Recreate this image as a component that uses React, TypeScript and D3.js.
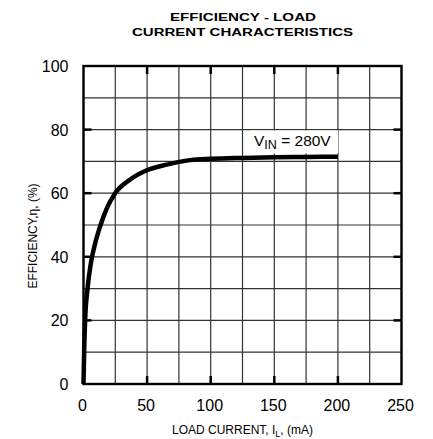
import React from "react";
import * as d3 from "d3";

const loadCurrent = [0, 0.55, 1.3, 3.1, 5.8, 9.2, 13.1, 18.4, 24.9, 36.7, 49.8, 65.5, 83.9, 100, 125, 150, 175, 200];
const efficiency = [0, 10.8, 20.2, 29.7, 38, 44.3, 49.6, 55.3, 60, 64.3, 67.2, 69, 70.4, 70.8, 71.1, 71.3, 71.4, 71.5];
const xTicks = [0, 50, 100, 150, 200, 250];
const yTicks = [0, 20, 40, 60, 80, 100];
const xGrid = d3.range(0, 251, 25);
const yGrid = d3.range(0, 101, 10);
const titleLines = ["EFFICIENCY - LOAD", "CURRENT CHARACTERISTICS"];

const W = 433, H = 439;
const L = 83.5, R = 401.5, T = 66, B = 384;

export default function App() {
  const x = d3.scaleLinear().domain([0, 250]).range([L, R]);
  const y = d3.scaleLinear().domain([0, 100]).range([B, T]);
  const pts: [number, number][] = loadCurrent.map((v, i) => [v, efficiency[i]]);
  const line = d3.line<[number, number]>().x(d => x(d[0])).y(d => y(d[1])).curve(d3.curveMonotoneX);
  const font = "'Liberation Sans', Arial, sans-serif";
  return (
    <svg width={W} height={H} style={{ position: "absolute", left: 0, top: 0, background: "#fff" }} fontFamily={font}>
      <rect x={0} y={0} width={W} height={H} fill="#fff" />
      <text x={243} y={20.7} textAnchor="middle" fontWeight="bold" fontSize={11.6} textLength={146} lengthAdjust="spacingAndGlyphs">{titleLines[0]}</text>
      <text x={242.5} y={36} textAnchor="middle" fontWeight="bold" fontSize={11.6} textLength={221} lengthAdjust="spacingAndGlyphs">{titleLines[1]}</text>
      {xGrid.map(v => (
        <line key={"gx" + v} x1={x(v)} x2={x(v)} y1={T} y2={B} stroke="#333" strokeWidth={1.2} />
      ))}
      {yGrid.map(v => (
        <line key={"gy" + v} x1={L} x2={R} y1={y(v)} y2={y(v)} stroke="#333" strokeWidth={1.2} />
      ))}
      {xTicks.slice(1, -1).map(v => (
        <g key={"tx" + v}>
          <line x1={x(v)} x2={x(v)} y1={T} y2={T + 8} stroke="#000" strokeWidth={2.5} />
          <line x1={x(v)} x2={x(v)} y1={B} y2={B - 8} stroke="#000" strokeWidth={2.5} />
        </g>
      ))}
      {yTicks.slice(1, -1).map(v => (
        <g key={"ty" + v}>
          <line x1={L} x2={L + 8} y1={y(v)} y2={y(v)} stroke="#000" strokeWidth={2.5} />
          <line x1={R} x2={R - 8} y1={y(v)} y2={y(v)} stroke="#000" strokeWidth={2.5} />
        </g>
      ))}
      <rect x={L} y={T} width={R - L} height={B - T} fill="none" stroke="#000" strokeWidth={2.4} />
      <rect x={250} y={130.5} width={88} height={23} fill="#fff" />
      <text x={254} y={146} fontSize={15.5}>
        V<tspan fontSize={12.5} dy={2.5}>IN</tspan><tspan dy={-2.5}> = 280V</tspan>
      </text>
      <path d={line(pts) || ""} fill="none" stroke="#000" strokeWidth={4.5} />
      {yTicks.map(v => (
        <text key={"yl" + v} x={68.5} y={y(v) + 6} textAnchor="end" fontSize={16}>{v}</text>
      ))}
      {xTicks.map(v => (
        <text key={"xl" + v} x={x(v) - 1} y={410.5} textAnchor="middle" fontSize={16}>{v}</text>
      ))}
      <text x={242.5} y={434} textAnchor="middle" fontSize={12}>
        LOAD CURRENT, I<tspan fontSize={9} dy={3}>L</tspan><tspan dy={-3}>, (mA)</tspan>
      </text>
      <text transform="translate(36.5,236) rotate(-90)" textAnchor="middle" fontSize={12}>
        EFFICIENCY,η, (%)
      </text>
    </svg>
  );
}
